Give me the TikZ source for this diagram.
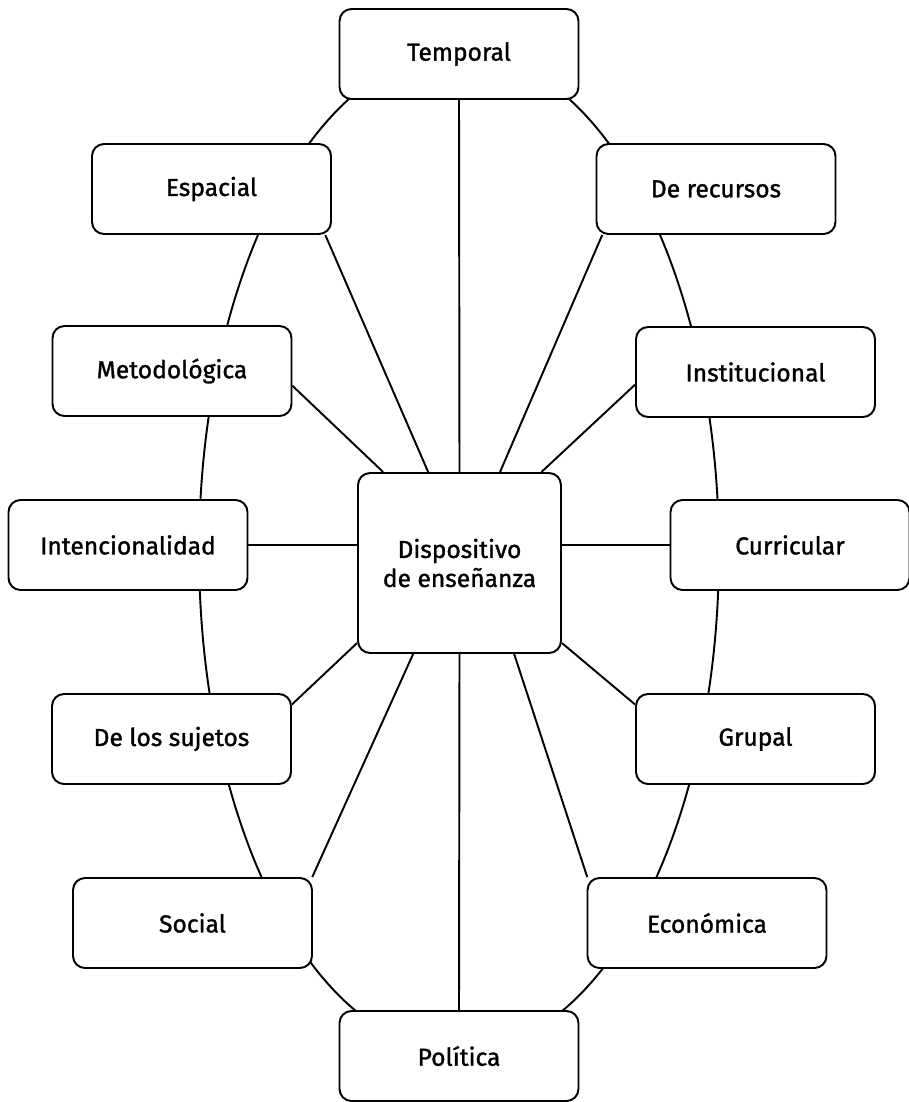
\documentclass[tikz,border=0pt]{standalone}
\usepackage{fontspec}
\setmainfont{Fira Sans}
\newfontfamily\dimfont[FakeBold=1.3]{Fira Sans}
\usetikzlibrary{positioning}

\tikzset{
  dimbox/.style={draw, fill=white, rounded corners=0.24cm, line width=1.1pt,
    minimum width=4.78cm, minimum height=1.8cm, font=\dimfont\fontsize{14}{16.5}\selectfont},
  centerbox/.style={dimbox, minimum width=4.06cm, minimum height=3.6cm, align=center}
}

\begin{document}
\begin{tikzpicture}[x=0.02cm, y=-0.02cm, line width=1.1pt]
  \useasboundingbox (0,0) rectangle (909,1102);

  % Ring behind the boxes
  \draw (459,552) ellipse [x radius=5.2cm, y radius=10cm];

  % Center
  \node[centerbox] (cen) at (459.5,563) {Dispositivo\\de enseñanza};

  % Dimensions
  \node[dimbox] (tem) at (459,54) {Temporal};
  \node[dimbox] (esp) at (211.5,189) {Espacial};
  \node[dimbox] (rec) at (716,189) {De recursos};
  \node[dimbox] (met) at (172,371) {Metodológica};
  \node[dimbox] (ins) at (755.5,372) {Institucional};
  \node[dimbox] (int) at (128,545) {Intencionalidad};
  \node[dimbox] (cur) at (790,545) {Curricular};
  \node[dimbox] (suj) at (171.5,739) {De los sujetos};
  \node[dimbox] (gru) at (755.5,739) {Grupal};
  \node[dimbox] (soc) at (192.5,923) {Social};
  \node[dimbox] (eco) at (707,923) {Económica};
  \node[dimbox] (pol) at (459,1056) {Política};

  % Spokes
  \draw (tem.south) -- (cen.north);
  \draw (esp.-22) -- (cen.109);
  \draw (rec.202) -- (cen.66);
  \draw (met.-7.6) -- (cen.130);
  \draw (ins.186.7) -- (cen.48);
  \draw (int.east) -- (int.east -| cen.west);
  \draw (cur.west) -- (cur.west -| cen.east);
  \draw (suj.16) -- (cen.218);
  \draw (gru.164) -- (cen.-38);
  \draw (soc.21) -- (cen.243);
  \draw (eco.159) -- (cen.-59);
  \draw (cen.south) -- (pol.north);
\end{tikzpicture}
\end{document}
